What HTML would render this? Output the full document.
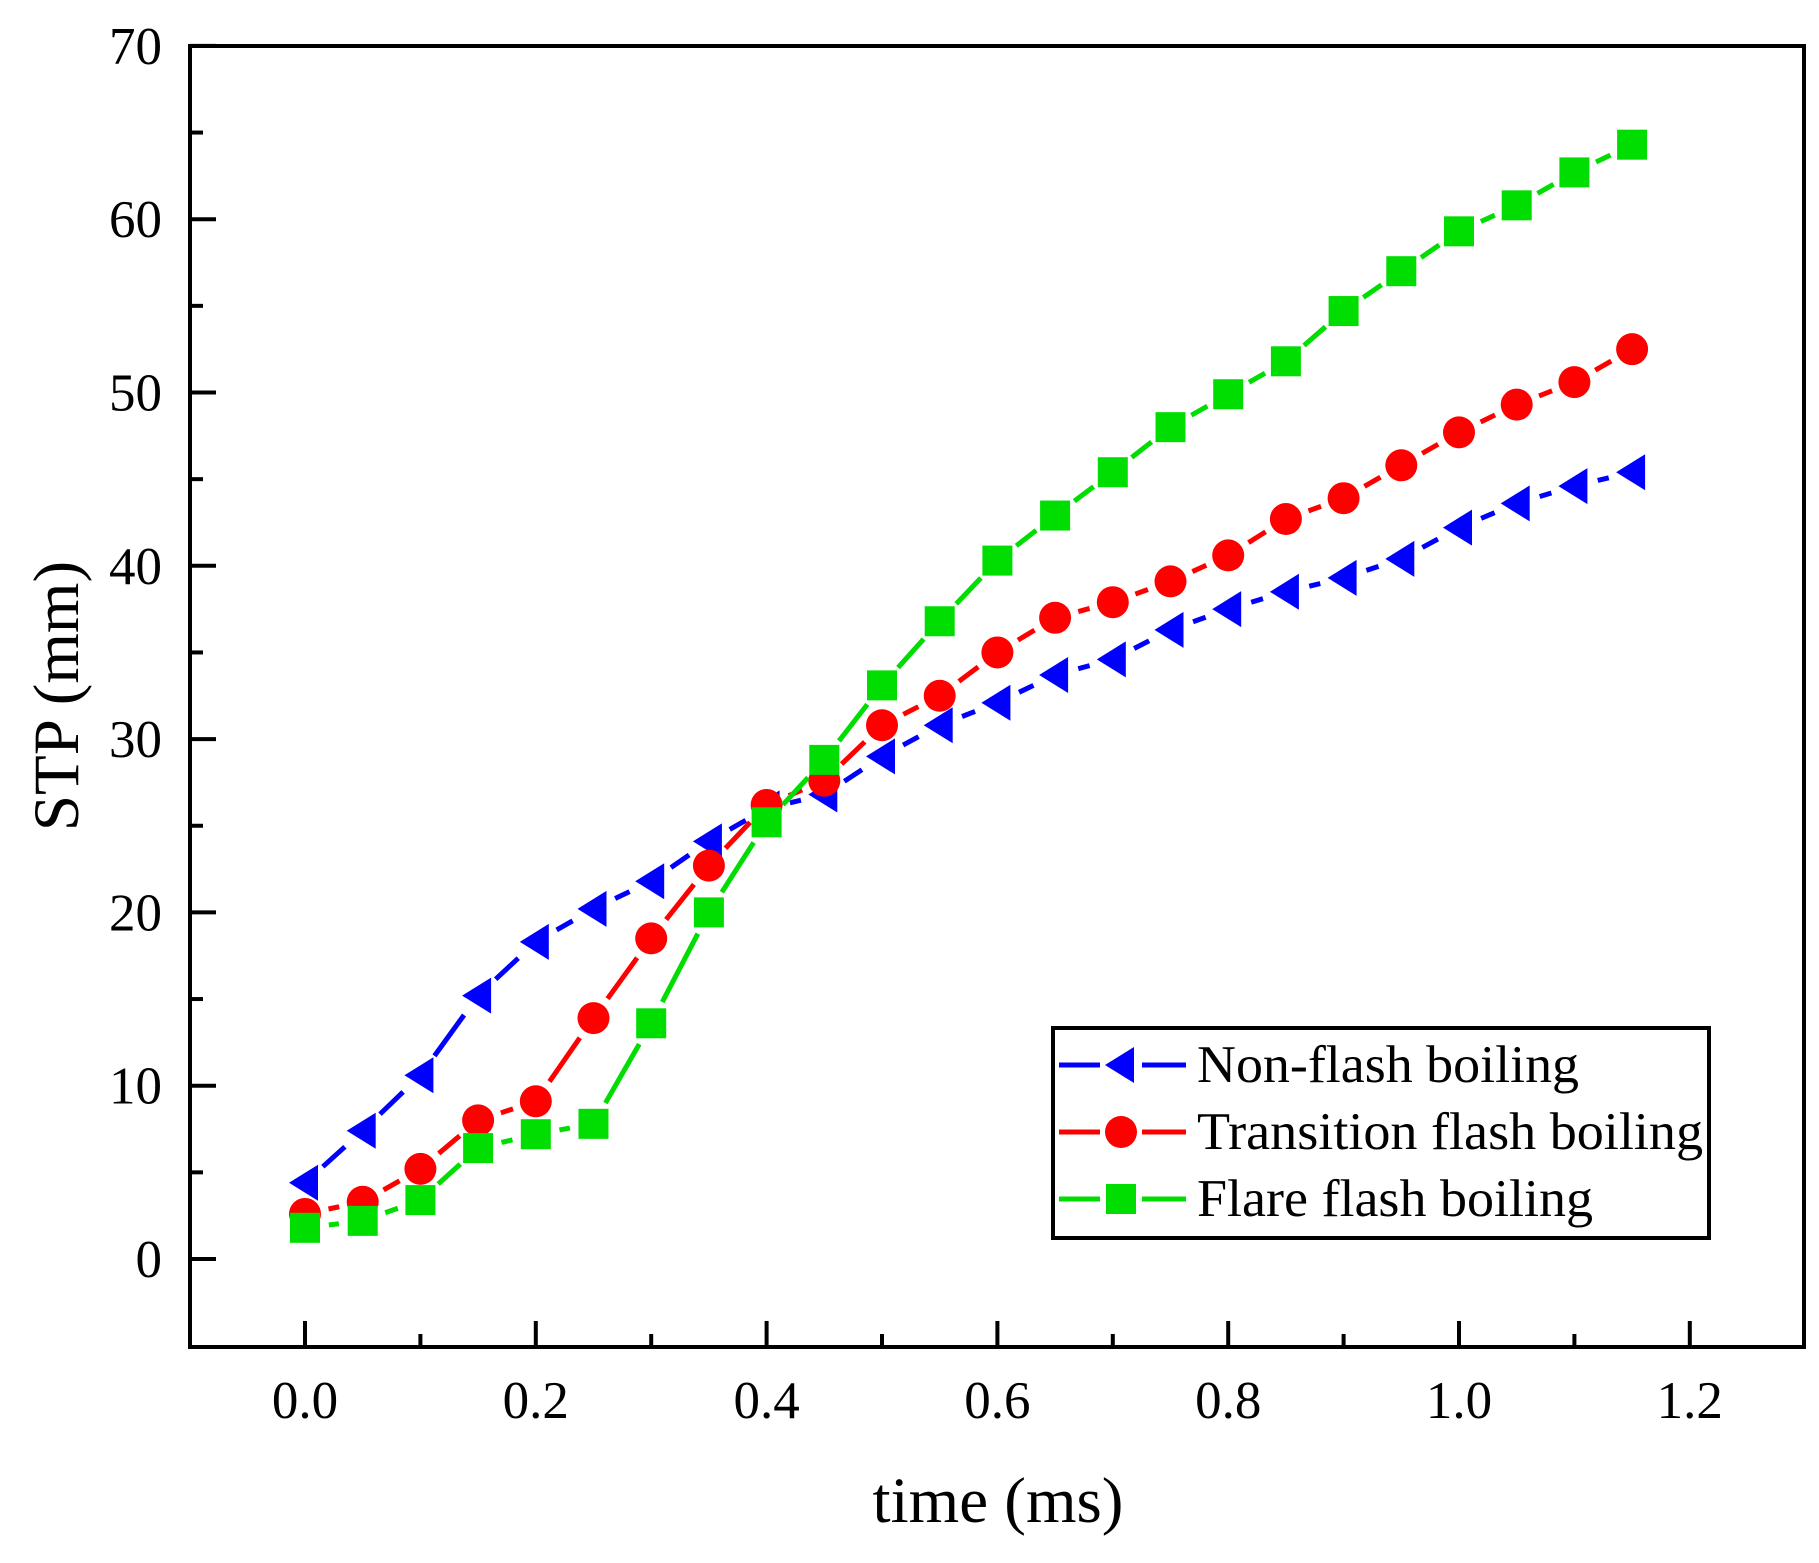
<!DOCTYPE html>
<html><head><meta charset="utf-8"><style>
html,body{margin:0;padding:0;background:#fff;}
svg{display:block;}
text{font-family:"Liberation Serif",serif;fill:#000;}
</style></head><body>
<svg id="s" width="1819" height="1563" viewBox="0 0 1819 1563" xmlns="http://www.w3.org/2000/svg">
<rect x="190" y="46" width="1614" height="1301" fill="none" stroke="#000" stroke-width="4"/>
<g id="ticks" stroke="#000" stroke-width="4"></g>
<g id="labels" font-size="53"></g>
<text x="998" y="1522" font-size="65" text-anchor="middle">time (ms)</text>
<text transform="translate(78,696) rotate(-90)" font-size="65" text-anchor="middle">STP (mm)</text>
<g id="series"></g>
<rect x="1053" y="1028" width="656" height="210" fill="#fff" stroke="#000" stroke-width="4"/>
<g id="leg"></g>
<text x="1197" y="1082" font-size="53" textLength="382" lengthAdjust="spacingAndGlyphs">Non-flash boiling</text>
<text x="1197" y="1149" font-size="53" textLength="506" lengthAdjust="spacingAndGlyphs">Transition flash boiling</text>
<text x="1197" y="1216" font-size="53" textLength="396" lengthAdjust="spacingAndGlyphs">Flare flash boiling</text>
</svg>
<script>
var NS="http://www.w3.org/2000/svg";
function X(v){return 305+v*1154;}
function Y(v){return 1259-v*17.33;}
function el(p,t,a){var e=document.createElementNS(NS,t);for(var k in a)e.setAttribute(k,a[k]);p.appendChild(e);return e;}
var tk=document.getElementById('ticks'),lb=document.getElementById('labels');
for(var i=-1;i<=14;i++){var v=i*5,y=Y(v);if(y>1340)continue;el(tk,'line',{x1:190,y1:y,x2:190+(i%2?13:26),y2:y});
 if(i%2==0&&i>=0){var t=el(lb,'text',{x:162,y:y+18,'text-anchor':'end'});t.textContent=v;}}
for(var i=-1;i<=13;i++){var v=i*0.1,x=X(v);if(x<=192||x>=1802)continue;el(tk,'line',{x1:x,y1:1347,x2:x,y2:1347-(i%2?13:26)});
 if(i%2==0){var t=el(lb,'text',{x:x,y:1418,'text-anchor':'middle'});t.textContent=v.toFixed(1);}}
var B=[4.4,7.4,10.6,15.2,18.3,20.2,21.8,24.1,26,26.8,29,30.8,32.1,33.7,34.6,36.3,37.5,38.5,39.3,40.4,42.2,43.6,44.6,45.4];
var R=[2.6,3.3,5.2,8.0,9.1,13.9,18.5,22.7,26.2,27.6,30.8,32.5,35.0,37.0,37.9,39.1,40.6,42.7,43.9,45.8,47.7,49.3,50.6,52.5];
var G=[1.8,2.2,3.4,6.4,7.2,7.8,13.6,20.0,25.2,28.8,33.1,36.8,40.3,42.9,45.4,48.0,49.9,51.8,54.7,57.0,59.3,60.8,62.7,64.3];
var sg=document.getElementById('series');
function marker(p,type,x,y,c){
 if(type=='t')el(p,'polygon',{points:(x-16)+','+y+' '+(x+13)+','+(y-18)+' '+(x+13)+','+(y+18),fill:c});
 else if(type=='c')el(p,'circle',{cx:x,cy:y,r:16,fill:c});
 else el(p,'rect',{x:x-15,y:y-15,width:30,height:30,fill:c});}
function series(d,c,type){
 var g=el(sg,'g',{});
 for(var i=0;i<d.length-1;i++){var x1=X(i*0.05),y1=Y(d[i]),x2=X((i+1)*0.05),y2=Y(d[i+1]);
  var dx=x2-x1,dy=y2-y1,L=Math.hypot(dx,dy),gp=24;if(L>2*gp+2){
  el(g,'line',{x1:x1+dx*gp/L,y1:y1+dy*gp/L,x2:x2-dx*gp/L,y2:y2-dy*gp/L,stroke:c,'stroke-width':5});}}
 for(var i=0;i<d.length;i++)marker(g,type,X(i*0.05),Y(d[i]),c);}
series(B,'#0000ff','t');series(R,'#ff0000','c');series(G,'#00dd00','s');
var lg=document.getElementById('leg');
[[1065,'#0000ff','t'],[1132,'#ff0000','c'],[1199,'#00dd00','s']].forEach(function(r){
 el(lg,'line',{x1:1059,y1:r[0],x2:1100,y2:r[0],stroke:r[1],'stroke-width':5});
 el(lg,'line',{x1:1142,y1:r[0],x2:1186,y2:r[0],stroke:r[1],'stroke-width':5});
 marker(lg,r[2],1121,r[0],r[1]);});
</script>
</body></html>
